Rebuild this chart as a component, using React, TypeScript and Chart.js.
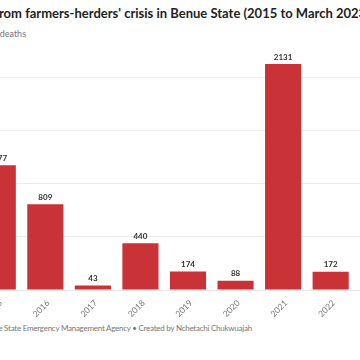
import React, { useEffect, useRef } from "react";
import { Chart, registerables } from "chart.js";
Chart.register(...registerables);

const titleText = "Deaths from farmers-herders' crisis in Benue State (2015 to March 2023)";
const subtitleText = "Number of deaths";
const sourceText = "Source: Benue State Emergency Management Agency • Created by Nchetachi Chukwuajah";
const years = ["2015", "2016", "2017", "2018", "2019", "2020", "2021", "2022", "2023"];
const deaths: (number | null)[] = [1177, 809, 43, 440, 174, 88, 2131, 172, null];
const yTicks = [0, 500, 1000, 1500, 2000];

const FONT = "Lato, 'Open Sans', sans-serif";
const BAR = "#c93237";

const valueLabels = {
  id: "valueLabels",
  afterDatasetsDraw(chart: any) {
    const ctx = chart.ctx;
    const meta = chart.getDatasetMeta(0);
    ctx.save();
    ctx.font = `bold 8px ${FONT}`;
    ctx.fillStyle = "#333";
    ctx.textAlign = "center";
    ctx.textBaseline = "bottom";
    meta.data.forEach((el: any, i: number) => {
      const v = deaths[i];
      if (v == null) return;
      ctx.fillText(String(v), el.x, el.y - 3);
    });
    ctx.restore();
  },
};

export default function App() {
  const ref = useRef<HTMLCanvasElement | null>(null);
  useEffect(() => {
    if (!ref.current) return;
    const chart = new Chart(ref.current, {
      type: "bar",
      data: {
        labels: years,
        datasets: [
          {
            data: deaths,
            backgroundColor: BAR,
            barPercentage: 0.76,
            categoryPercentage: 1,
          },
        ],
      },
      options: {
        animation: false,
        responsive: false,
        maintainAspectRatio: false,
        layout: { padding: { top: 14, right: 8, left: 0, bottom: 0 } },
        plugins: { legend: { display: false }, tooltip: { enabled: false } },
        scales: {
          x: {
            grid: { display: false },
            border: { color: "#e6e6e6" },
            ticks: {
              color: "#777",
              font: { family: FONT, size: 8.5 },
              minRotation: 45,
              maxRotation: 45,
              padding: 0,
              labelOffset: 3,
            },
            afterFit(scale: any) {
              scale.height = 30;
            },
          },
          y: {
            min: 0,
            max: Math.max(...(deaths.filter((d) => d != null) as number[])),
            border: { display: false },
            grid: { color: "#ececec" },
            afterBuildTicks(scale: any) {
              scale.ticks = yTicks.map((v) => ({ value: v }));
            },
            ticks: {
              color: "#666",
              font: { family: FONT, size: 9 },
              callback: (v: any) => Number(v).toLocaleString("en-US"),
            },
            afterFit(scale: any) {
              scale.width = 24;
            },
          },
        },
      },
      plugins: [valueLabels],
    });
    return () => chart.destroy();
  }, []);

  return (
    <div style={{ position: "fixed", left: 0, top: 0, width: 360, height: 360, overflow: "hidden", background: "#fff" }}>
      <div style={{ position: "absolute", left: -50, top: 0, width: 460, height: 360, fontFamily: FONT }}>
        <div style={{ position: "absolute", left: 0, top: 5, whiteSpace: "nowrap", fontWeight: 700, fontSize: 13, color: "#222" }}>
          {titleText}
        </div>
        <div style={{ position: "absolute", left: 5, top: 28, whiteSpace: "nowrap", fontSize: 9, color: "#777" }}>
          {subtitleText}
        </div>
        <canvas ref={ref} width={460} height={270} style={{ position: "absolute", left: 0, top: 50, width: 460, height: 270 }} />
        <div style={{ position: "absolute", left: 5, top: 323, whiteSpace: "nowrap", fontSize: 8, letterSpacing: -0.25, color: "#777" }}>
          {sourceText}
        </div>
      </div>
    </div>
  );
}
